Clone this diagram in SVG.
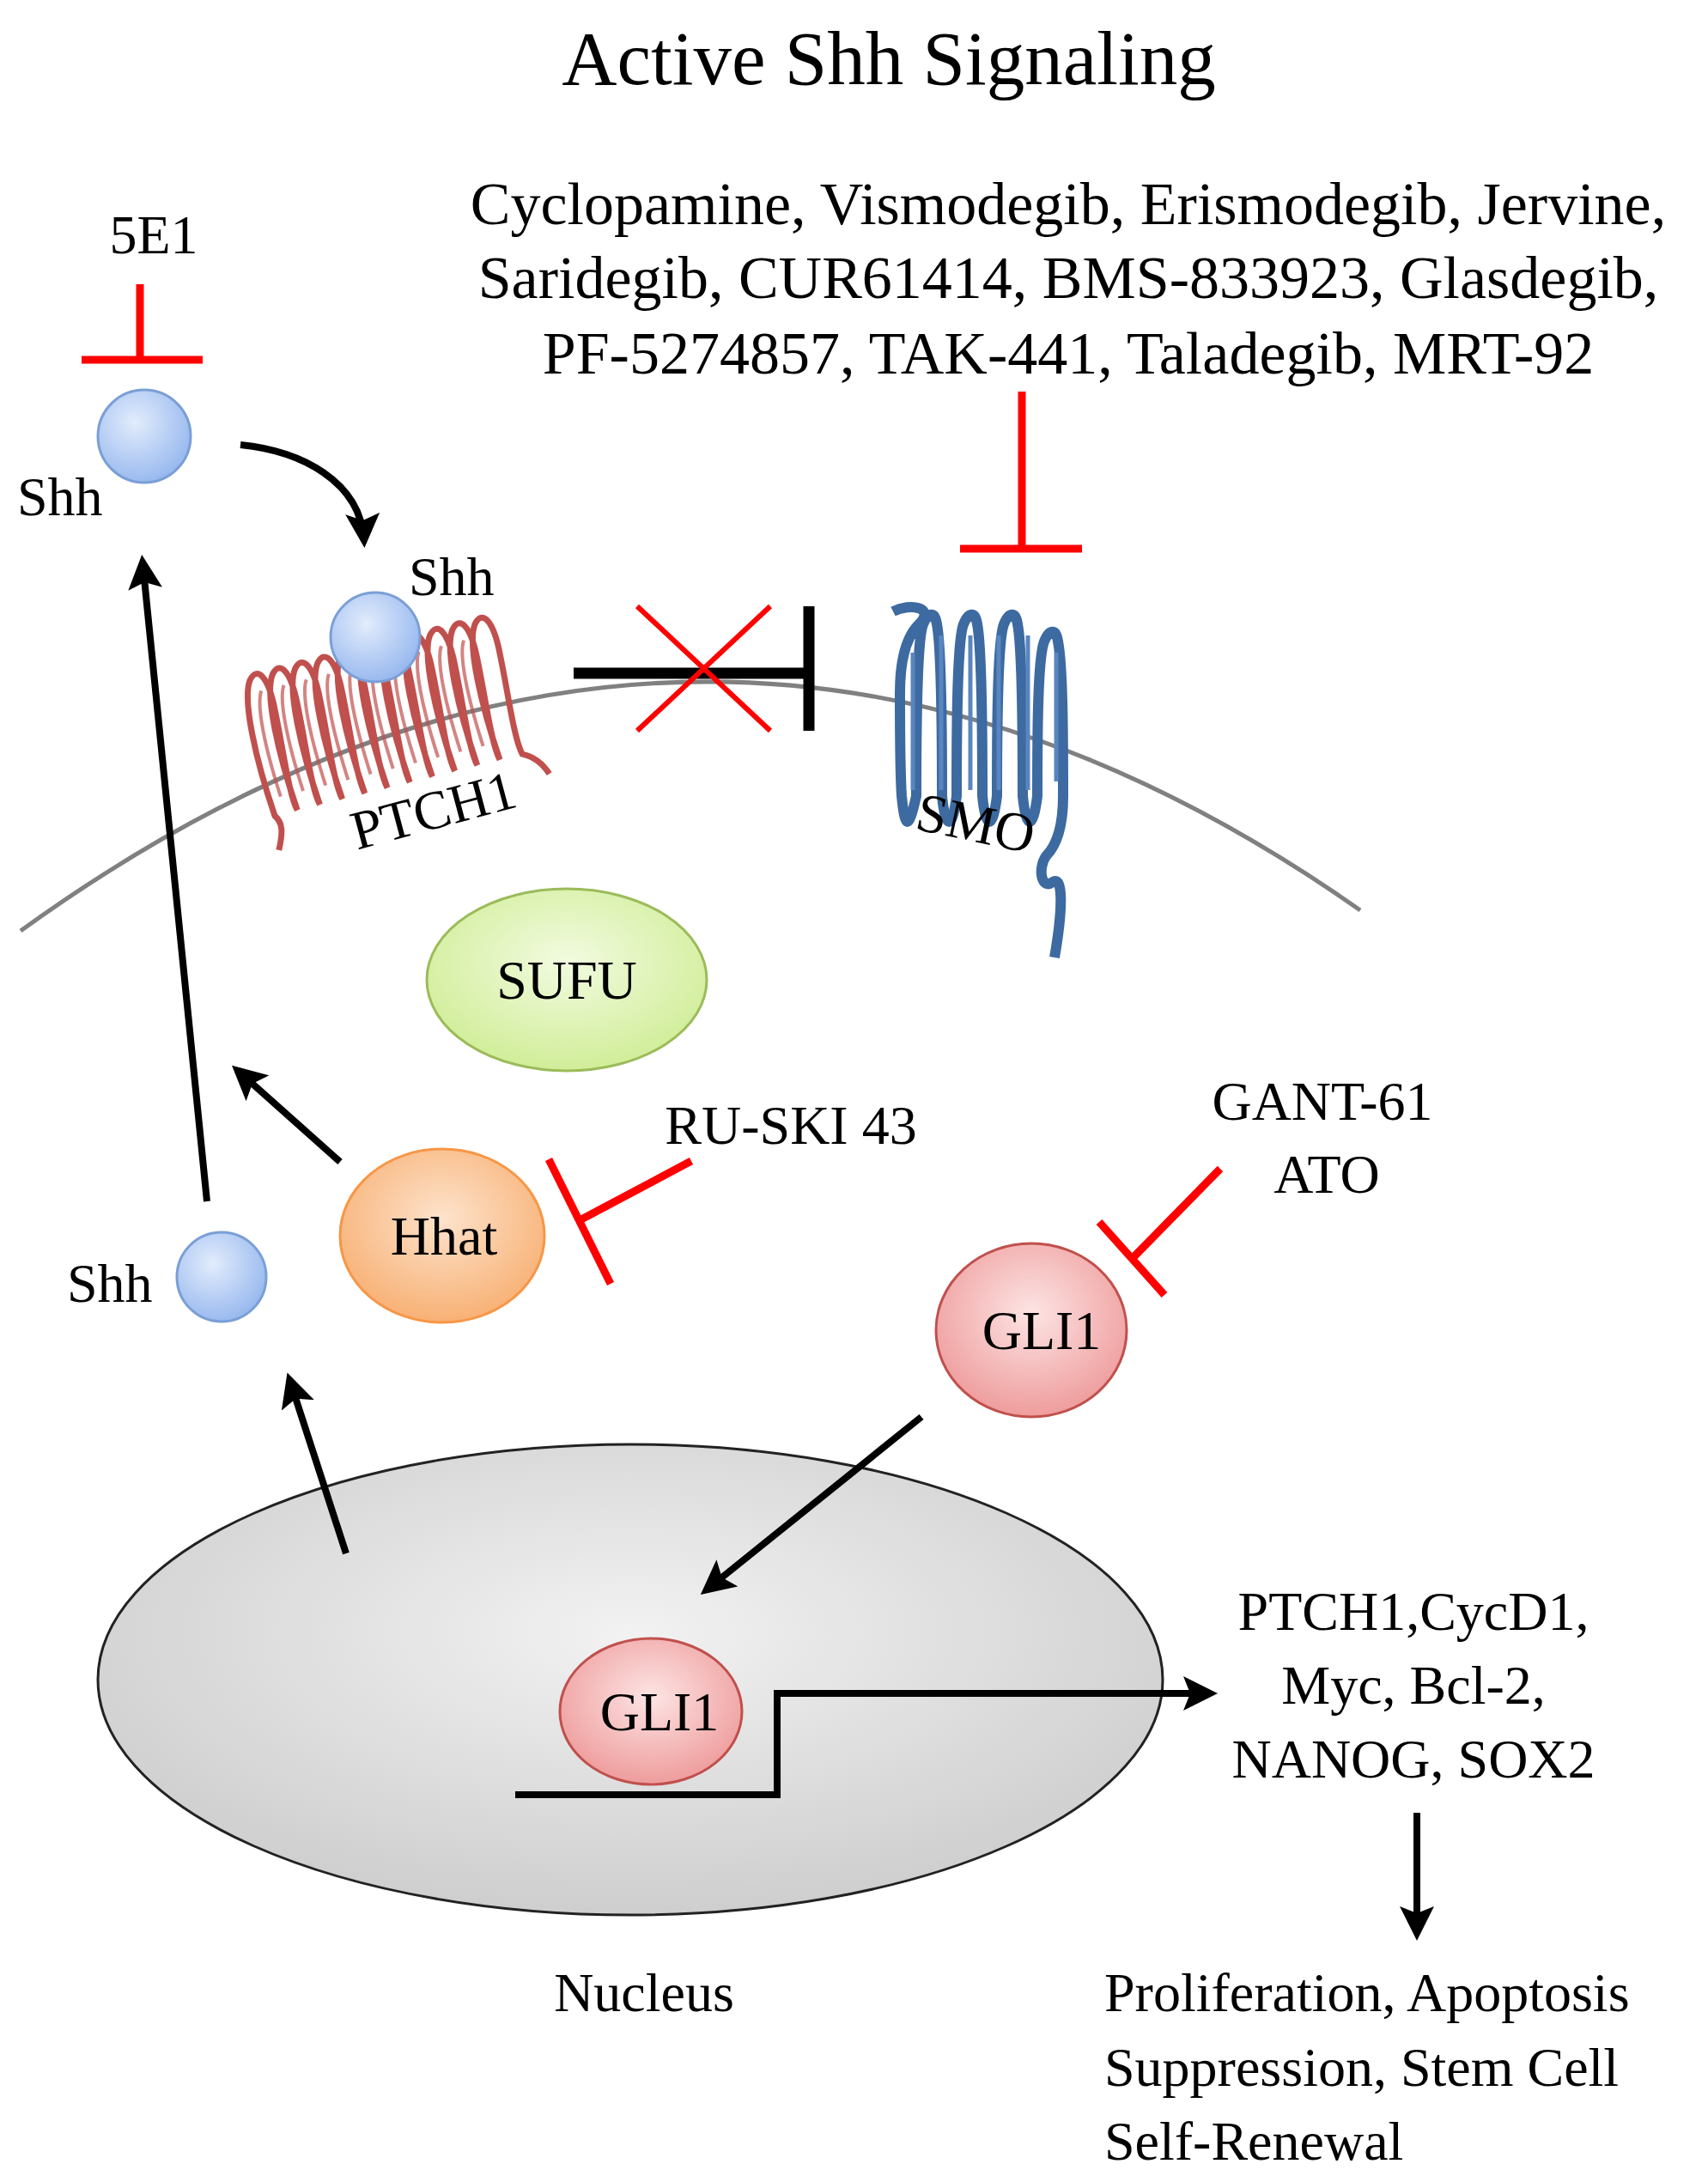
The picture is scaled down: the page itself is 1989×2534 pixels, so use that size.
<svg xmlns="http://www.w3.org/2000/svg" width="1989" height="2534" viewBox="0 0 1989 2534">
<defs>
<style>
text{font-family:"Liberation Serif","Times New Roman",serif;fill:#000}
.t{font-size:70px}
.lbl{font-size:64px}
.ar{stroke:#000;stroke-width:8;fill:none;marker-end:url(#ah)}
.red{stroke:#ff0000;fill:none}
</style>
<marker id="ah" viewBox="0 0 10 10" refX="8" refY="5" markerWidth="5" markerHeight="5" orient="auto"><path d="M0,0L10,5L0,10L2,5Z" fill="#000"/></marker>
<radialGradient id="gb" cx="0.4" cy="0.35" r="0.7"><stop offset="0" stop-color="#e2ecfc"/><stop offset="1" stop-color="#94b6ee"/></radialGradient>
<radialGradient id="gg" cx="0.5" cy="0.4" r="0.7"><stop offset="0" stop-color="#f2fbe0"/><stop offset="1" stop-color="#cbeb8c"/></radialGradient>
<radialGradient id="go" cx="0.5" cy="0.4" r="0.7"><stop offset="0" stop-color="#fde3cc"/><stop offset="1" stop-color="#f7a866"/></radialGradient>
<radialGradient id="gp" cx="0.5" cy="0.4" r="0.7"><stop offset="0" stop-color="#fde4e4"/><stop offset="1" stop-color="#ec9090"/></radialGradient>
<radialGradient id="gn" cx="0.5" cy="0.4" r="0.7"><stop offset="0" stop-color="#f2f2f2"/><stop offset="1" stop-color="#c8c8c8"/></radialGradient>
</defs>
<rect width="1989" height="2534" fill="#fff"/>
<text x="1035" y="98" font-size="89" text-anchor="middle">Active Shh Signaling</text>
<g id="drugs" class="t" text-anchor="middle">
<text x="1244" y="261">Cyclopamine, Vismodegib, Erismodegib, Jervine,</text>
<text x="1244" y="347">Saridegib, CUR61414, BMS-833923, Glasdegib,</text>
<text x="1244" y="435">PF-5274857, TAK-441, Taladegib, MRT-92</text>
</g>
<g id="membrane"><path d="M24,1084 Q810,516 1584,1060" stroke="#808080" stroke-width="5" fill="none"/></g>
<g id="nucleus"><ellipse cx="734" cy="1956" rx="620" ry="274" fill="url(#gn)" stroke="#222" stroke-width="3"/><text x="750" y="2342" class="lbl" text-anchor="middle">Nucleus</text></g>
<g id="ptch1">
<g transform="translate(320,950) rotate(-14)">
<path d="M-5,40 c10,-20 12,-30 5,-40 c-6,-70 -4,-140 10,-160 c12,-15 22,0 20,40 c-2,50 -8,100 -3,120 c-6,-70 -4,-140 10,-160 c12,-15 22,0 20,40 c-2,50 -8,100 -3,120 c-6,-70 -4,-140 10,-160 c12,-15 22,0 20,40 c-2,50 -8,100 -3,120 c-6,-70 -4,-140 10,-160 c12,-15 22,0 20,40 c-2,50 -8,100 -3,120 c-6,-70 -4,-140 10,-160 c12,-15 22,0 20,40 c-2,50 -8,100 -3,120 c-6,-70 -4,-140 10,-160 c12,-15 22,0 20,40 c-2,50 -8,100 -3,120 c-6,-70 -4,-140 10,-160 c12,-15 22,0 20,40 c-2,50 -8,100 -3,120 c-6,-70 -4,-140 10,-160 c12,-15 22,0 20,40 c-2,50 -8,100 -3,120 c-6,-70 -4,-140 10,-160 c12,-15 22,0 20,40 c-2,50 -8,100 -3,120 c-6,-70 -4,-140 10,-160 c12,-15 22,0 20,40 c-2,50 -8,100 -3,120 c-6,-70 -4,-140 10,-160 c12,-15 22,0 20,40 c-2,50 -8,100 -3,120 c10,5 20,15 25,30" stroke="#c0504d" stroke-width="7" fill="none"/>
<path d="M12,-20 c-4,-60 -2,-110 8,-125 M39,-20 c-4,-60 -2,-110 8,-125 M66,-20 c-4,-60 -2,-110 8,-125 M93,-20 c-4,-60 -2,-110 8,-125 M120,-20 c-4,-60 -2,-110 8,-125 M147,-20 c-4,-60 -2,-110 8,-125 M174,-20 c-4,-60 -2,-110 8,-125 M201,-20 c-4,-60 -2,-110 8,-125 M228,-20 c-4,-60 -2,-110 8,-125 M255,-20 c-4,-60 -2,-110 8,-125" stroke="#c0504d" stroke-width="4" fill="none" opacity="0.7"/>
</g>
<text x="505" y="965" class="lbl" text-anchor="middle" transform="rotate(-15 505 945)">PTCH1</text>
</g>
<g id="smo">
<path d="M1040,712 c20,-10 50,-5 30,15 c-15,15 -22,40 -22,80 c0,40 0,90 2,120 c4,40 8,40 17,0 c0,-60 0,-180 8,-200 c6,-15 14,-15 16,0 c6,30 6,140 6,200 c4,40 12,40 17,0 c0,-60 0,-180 8,-200 c6,-15 14,-15 16,0 c6,30 6,140 6,200 c4,40 12,40 17,0 c0,-60 0,-180 8,-200 c6,-15 14,-15 16,0 c6,30 6,140 6,200 c4,40 12,40 17,0 c0,-60 0,-160 8,-180 c6,-15 14,-15 16,0 c6,30 6,120 6,180 c0,40 -10,60 -20,70 c-10,15 -5,40 8,30 c12,-8 12,30 2,88" stroke="#3d6aa0" stroke-width="12" fill="none" stroke-linejoin="round"/>
<path d="M1063,760 v160 M1096,740 v180 M1130,740 v180 M1163,740 v180 M1197,740 v180 M1230,760 v150" stroke="#5a86bf" stroke-width="5" fill="none"/>
<text x="1136" y="980" class="lbl" text-anchor="middle" transform="rotate(12 1136 960)">SMO</text>
</g>
<g id="shh-top"><circle cx="168" cy="508" r="54" fill="url(#gb)" stroke="#7a9fd6" stroke-width="3"/><text x="20" y="600" class="lbl">Shh</text></g>
<g id="shh-ptch"><circle cx="437" cy="742" r="52" fill="url(#gb)" stroke="#7a9fd6" stroke-width="3"/><text x="476" y="693" class="lbl">Shh</text></g>
<g id="shh-low"><circle cx="258" cy="1487" r="52" fill="url(#gb)" stroke="#7a9fd6" stroke-width="3"/><text x="78" y="1516" class="lbl">Shh</text></g>
<g id="sufu"><ellipse cx="660" cy="1141" rx="163" ry="106" fill="url(#gg)" stroke="#9bbb59" stroke-width="3"/><text x="660" y="1163" class="lbl" text-anchor="middle">SUFU</text></g>
<g id="hhat"><ellipse cx="515" cy="1439" rx="119" ry="101" fill="url(#go)" stroke="#f79646" stroke-width="3"/><text x="517" y="1461" class="lbl" text-anchor="middle">Hhat</text></g>
<g id="gli1-cyto"><ellipse cx="1201" cy="1549" rx="111" ry="101" fill="url(#gp)" stroke="#c0504d" stroke-width="3"/><text x="1213" y="1571" class="lbl" text-anchor="middle">GLI1</text></g>
<g id="gli1-nuc"><ellipse cx="758" cy="1993" rx="106" ry="85" fill="url(#gp)" stroke="#c0504d" stroke-width="3"/><text x="768" y="2015" class="lbl" text-anchor="middle">GLI1</text></g>
<g id="labels">
<text x="179" y="295" class="lbl" text-anchor="middle">5E1</text>
<text x="921" y="1332" class="lbl" text-anchor="middle">RU-SKI 43</text>
<text x="1540" y="1304" class="lbl" text-anchor="middle">GANT-61</text>
<text x="1545" y="1389" class="lbl" text-anchor="middle">ATO</text>
<g class="lbl" text-anchor="middle">
<text x="1646" y="1898">PTCH1,CycD1,</text>
<text x="1646" y="1984">Myc, Bcl-2,</text>
<text x="1646" y="2070">NANOG, SOX2</text>
</g>
<g class="lbl">
<text x="1286" y="2342">Proliferation, Apoptosis</text>
<text x="1286" y="2429">Suppression, Stem Cell</text>
<text x="1286" y="2515">Self-Renewal</text>
</g>
</g>
<g id="connectors">
<path class="red" stroke-width="9" d="M163,331V419M95,419H236"/>
<path class="red" stroke-width="9" d="M1190,456V639M1118,639H1260"/>
<path class="red" stroke-width="9" d="M805,1352L677,1420M639,1350L711,1495"/>
<path class="red" stroke-width="9" d="M1421,1361L1320,1464M1280,1423L1356,1508"/>
<path d="M668,784H942M942,706V851" stroke="#000" stroke-width="13" fill="none"/>
<path class="red" stroke-width="6" d="M742,706L897,851M897,706L742,851"/>
<path class="ar" stroke-width="10" d="M280,518C350,525 420,560 424,630"/>
<path class="ar" d="M241,1399L166,654"/>
<path class="ar" d="M396,1353L276,1246"/>
<path class="ar" d="M403,1809L337,1606"/>
<path class="ar" d="M1073,1650L822,1852"/>
<path class="ar" d="M600,2090H905V1972H1410"/>
<path class="ar" d="M1650,2111V2252"/>
</g>
</svg>
